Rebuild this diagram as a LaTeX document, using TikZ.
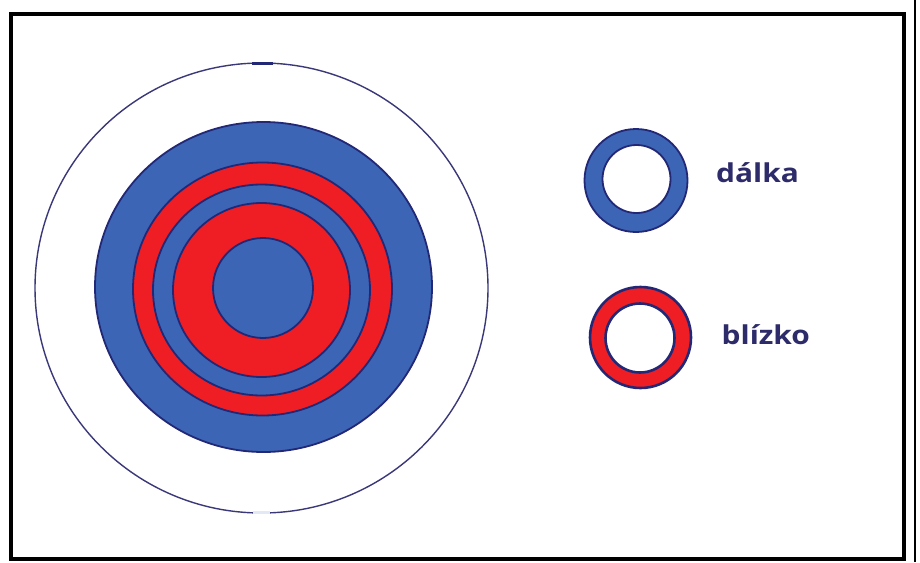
\documentclass[tikz,border=0pt]{standalone}
\usepackage{fontspec}
\setmainfont{Open Sans}
\definecolor{ringblue}{RGB}{60,101,182}
\definecolor{ringred}{RGB}{238,30,36}
\definecolor{edge}{RGB}{34,40,118}
\definecolor{labelnavy}{RGB}{45,43,105}
\definecolor{thinedge}{RGB}{58,56,120}
\tikzset{
  bluefill/.style={fill=ringblue, draw=edge, line width=1.8pt},
  redfill/.style={fill=ringred, draw=edge, line width=1.8pt},
  legendtext/.style={font=\fontsize{26}{30}\selectfont\bfseries, text=labelnavy, inner sep=0pt, anchor=base west, xscale=1.15, transform shape},
}
\begin{document}
\begin{tikzpicture}[x=1pt,y=-1pt]
\useasboundingbox (0,0) rectangle (920,562);
\fill[white] (0,0) rectangle (920,562);
% frame
\draw[black, line width=3.5pt] (11,14) rectangle (904,559);
\draw[black, line width=2.5pt] (915,0) -- (915,562);
% outer thin circle
\draw[thinedge, line width=1.4pt] (261.5,288) ellipse [x radius=226.5, y radius=225];
\draw[edge, line width=3pt] (252,63.3) -- (273,63.3);
\draw[white!85!ringblue, line width=3pt] (253,512.8) -- (270,512.8);
% target
\filldraw[bluefill] (263.5,287) ellipse [x radius=168.5, y radius=165];
\filldraw[redfill] (262.5,289) ellipse [x radius=129.5, y radius=126.5];
\filldraw[bluefill] (261.5,290) ellipse [x radius=108.5, y radius=105.5];
\filldraw[redfill] (261.5,290) ellipse [x radius=88.5, y radius=87];
\filldraw[bluefill] (263,288) circle (50);
% legend rings
\fill[ringblue, even odd rule] (636,180.5) circle (51.5) (636.5,179) circle (34);
\draw[edge, line width=1.8pt] (636,180.5) circle (51.5);
\draw[edge, line width=1.8pt] (636.5,179) circle (34);
\fill[ringred, even odd rule] (640.5,337.5) circle (50.5) (640,338) circle (34.5);
\draw[edge, line width=2.6pt] (640.5,337.5) circle (50.5);
\draw[edge, line width=2.6pt] (640,338) circle (34.5);
% labels
\node[legendtext] (far) at (716,182) {dálka};
\node[legendtext] (near) at (721.5,344) {blízko};
\end{tikzpicture}
\end{document}
